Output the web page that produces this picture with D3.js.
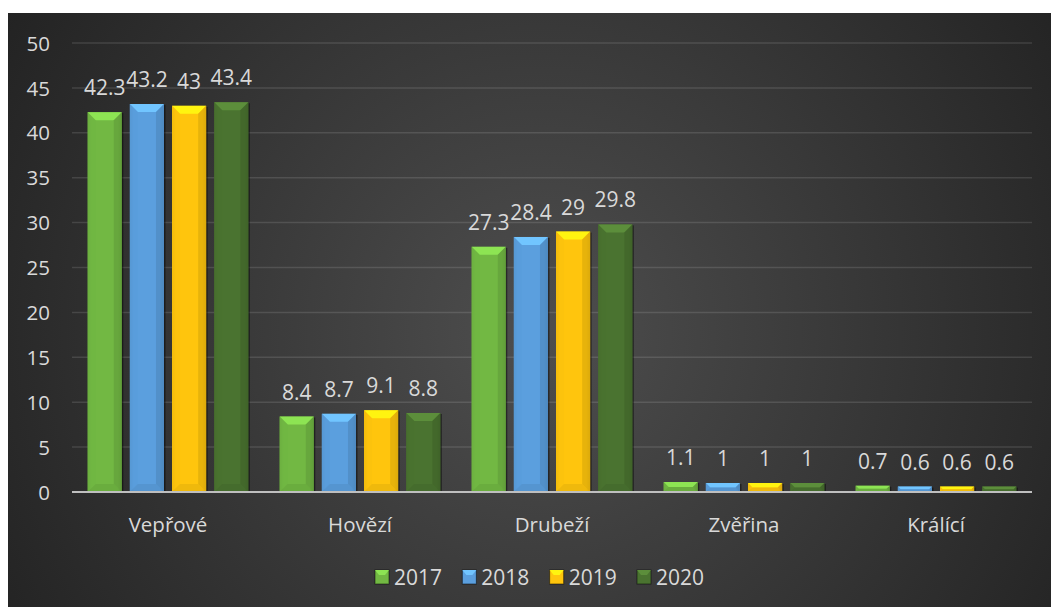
<!DOCTYPE html>
<html><head><meta charset="utf-8">
<script src="https://cdn.jsdelivr.net/npm/d3@7"></script>
<style>html,body{margin:0;padding:0;background:#fff;}svg{display:block;}</style>
</head><body>
<svg id="c" width="1051" height="607"></svg>
<script>
const categories = ["Vepřové", "Hovězí", "Drubeží", "Zvěřina", "Králící"];
const seriesNames = ["2017", "2018", "2019", "2020"];
const v2017 = [42.3, 8.4, 27.3, 1.1, 0.7];
const v2018 = [43.2, 8.7, 28.4, 1, 0.6];
const v2019 = [43, 9.1, 29, 1, 0.6];
const v2020 = [43.4, 8.8, 29.8, 1, 0.6];
const yTicks = [0, 5, 10, 15, 20, 25, 30, 35, 40, 45, 50];
const colors = ["#72b843", "#5b9fde", "#ffc50d", "#4a7330"];

const seriesValues = [v2017, v2018, v2019, v2020];
const svg = d3.select("#c");
const W = 1051, H = 607;
const FONT = "'Open Sans', 'Noto Sans', sans-serif";
const TXT = "#d9d9d9";

const defs = svg.append("defs");
const bg = defs.append("radialGradient").attr("id", "bg")
  .attr("gradientUnits", "userSpaceOnUse")
  .attr("cx", 540).attr("cy", 330).attr("r", 620);
bg.append("stop").attr("offset", "0").attr("stop-color", "#4e4e4e");
bg.append("stop").attr("offset", "1").attr("stop-color", "#232323");

colors.forEach((c, i) => {
  const g = defs.append("linearGradient").attr("id", "bar" + i)
    .attr("x1", 0).attr("x2", 1).attr("y1", 0).attr("y2", 0);
  const base = d3.color(c);
  g.append("stop").attr("offset", 0).attr("stop-color", base.darker(0.25));
  g.append("stop").attr("offset", 0.12).attr("stop-color", base);
  g.append("stop").attr("offset", 0.88).attr("stop-color", base);
  g.append("stop").attr("offset", 1).attr("stop-color", base.darker(0.45));
});

svg.append("rect").attr("x", 8).attr("y", 13).attr("width", W - 8).attr("height", H - 13)
  .attr("fill", "url(#bg)");

const x0 = d3.scaleBand().domain(categories).range([72, 1032]).padding(0);
const x1 = d3.scaleBand().domain(seriesNames).range([0, x0.bandwidth()])
  .paddingInner(0.19).paddingOuter(0.37);
const y = d3.scaleLinear().domain([0, 50]).range([492, 43]);

svg.append("g").selectAll("line").data(yTicks.filter(t => t > 0)).join("line")
  .attr("x1", 72).attr("x2", 1032)
  .attr("y1", d => y(d)).attr("y2", d => y(d))
  .attr("stroke", "rgba(255,255,255,0.12)").attr("stroke-width", 1.5);

const yAxis = d3.axisLeft(y).tickValues(yTicks).tickSize(0).tickPadding(0);
const ya = svg.append("g").attr("transform", "translate(50,0)").call(yAxis);
ya.select(".domain").remove();
ya.selectAll("text").attr("fill", TXT).style("font-family", FONT).style("font-size", "20.5px")
  .attr("dy", "0.35em");

const bevel = 8;
const groups = svg.append("g").selectAll("g").data(seriesNames).join("g");
groups.each(function (s, si) {
  const g = d3.select(this);
  const data = categories.map((c, ci) => ({ c, v: seriesValues[si][ci] }));
  const base = d3.color(colors[si]);
  const bw = x1.bandwidth();
  data.forEach(d => {
    const xl = x0(d.c) + x1(s);
    const yt = y(d.v), yb = y(0);
    const h = yb - yt;
    const b = Math.min(bevel, h / 2);
    g.append("rect").attr("x", xl + 1.5).attr("y", yt + 1).attr("width", bw).attr("height", h)
      .attr("fill", "rgba(0,0,0,0.45)");
    g.append("rect").attr("x", xl).attr("y", yt).attr("width", bw).attr("height", h)
      .attr("fill", `url(#bar${si})`);
    g.append("path").attr("d",
      `M${xl},${yt}L${xl + bw},${yt}L${xl + bw - b},${yt + b}L${xl + b},${yt + b}Z`)
      .attr("fill", base.brighter(0.6));
    g.append("path").attr("d",
      `M${xl},${yt}L${xl + b},${yt + b}L${xl + b},${yb - b}L${xl},${yb}Z`)
      .attr("fill", base.darker(0.05)).attr("opacity", 0.6);
    g.append("path").attr("d",
      `M${xl + bw},${yt}L${xl + bw - b},${yt + b}L${xl + bw - b},${yb - b}L${xl + bw},${yb}Z`)
      .attr("fill", base.darker(0.4)).attr("opacity", 0.7);
    g.append("path").attr("d",
      `M${xl},${yb}L${xl + b},${yb - b}L${xl + bw - b},${yb - b}L${xl + bw},${yb}Z`)
      .attr("fill", base.darker(0.3)).attr("opacity", 0.6);
    g.append("text").attr("x", xl + bw / 2).attr("y", yt - 17)
      .attr("text-anchor", "middle").attr("fill", TXT)
      .style("font-family", FONT).style("font-size", "21px")
      .text(d.v);
  });
});

svg.append("line").attr("x1", 72).attr("x2", 1032).attr("y1", y(0)).attr("y2", y(0))
  .attr("stroke", "#bfbfbf").attr("stroke-width", 2);

const xAxis = d3.axisBottom(x0).tickSize(0).tickPadding(0);
const xa = svg.append("g").attr("transform", "translate(0,532)").call(xAxis);
xa.select(".domain").remove();
xa.selectAll("text").attr("fill", TXT).attr("dy", 0).style("font-family", FONT).style("font-size", "20.5px");

const legX = d3.scalePoint().domain(seriesNames).range([375, 637]);
const leg = svg.append("g").selectAll("g").data(seriesNames).join("g")
  .attr("transform", d => `translate(${legX(d)},570)`);
leg.append("rect").attr("width", 14).attr("height", 14)
  .attr("fill", (d, i) => colors[i]).attr("stroke", "rgba(0,0,0,0.5)").attr("stroke-width", 1);
leg.append("path").attr("d", "M0,0L14,0L10,5L4,5Z").attr("fill", (d, i) => d3.color(colors[i]).brighter(0.6));
leg.append("text").attr("x", 19).attr("y", 14.5).attr("fill", TXT)
  .style("font-family", FONT).style("font-size", "21px").text(d => d);
</script>
</body></html>
